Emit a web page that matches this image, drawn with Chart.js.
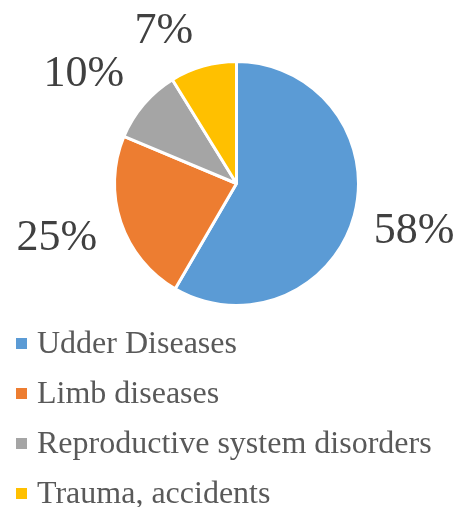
<!DOCTYPE html>
<html>
<head>
<meta charset="utf-8">
<script src="https://cdn.jsdelivr.net/npm/chart.js@4.4.0/dist/chart.umd.min.js"></script>
<style>
    html, body { margin: 0; padding: 0; background: #fff; }
    #wrap { position: relative; width: 459px; height: 507px; }
    #legend { position: absolute; left: 16px; top: 317px; font-family: "Liberation Serif", "Times New Roman", serif; font-size: 32px; color: #595959; }
    .item { height: 50px; display: flex; align-items: center; white-space: nowrap; }
    .box { width: 11px; height: 11px; margin-right: 10px; margin-top: 2px; }
</style>
</head>
<body>
<div id="wrap">
    <canvas id="pie" width="459" height="507"></canvas>
    <div id="legend"></div>
</div>
<script>
const categories = ['Udder Diseases', 'Limb diseases', 'Reproductive system disorders', 'Trauma, accidents'];
const shares = [58.4, 22.9, 9.9, 8.8];
const shareLabels = ['58%', '25%', '10%', '7%'];
const colors = ['#5b9bd5', '#ed7d31', '#a5a5a5', '#ffc000'];

// labels outside the slice ends, with small nudges to sit like the original
const outsideLabels = {
    id: 'outsideLabels',
    afterDatasetsDraw(chart, args, opts) {
        const ctx = chart.ctx;
        const arcs = chart.getDatasetMeta(0).data;
        ctx.save();
        ctx.font = '44px "Liberation Serif", "Times New Roman", serif';
        ctx.fillStyle = '#404040';
        ctx.textAlign = 'center';
        ctx.textBaseline = 'middle';
        arcs.forEach((arc, i) => {
            const mid = (arc.startAngle + arc.endAngle) / 2;
            const c = Math.cos(mid), s = Math.sin(mid);
            const w = ctx.measureText(shareLabels[i]).width;
            const h = 32;
            const d = arc.outerRadius + 22 + Math.abs(c) * w / 2 + Math.abs(s) * h / 2;
            const n = opts.nudge[i] || [0, 0];
            ctx.fillText(shareLabels[i], arc.x + c * d + n[0], arc.y + s * d + n[1]);
        });
        ctx.restore();
    }
};

const chart = new Chart(document.getElementById('pie'), {
    type: 'pie',
    data: {
        labels: categories,
        datasets: [{
            data: shares,
            backgroundColor: colors,
            borderColor: '#ffffff',
            borderWidth: 3
        }]
    },
    options: {
        responsive: false,
        animation: false,
        layout: { padding: { left: 113, right: 99, top: 60, bottom: 200 } },
        plugins: {
            legend: { display: false },
            tooltip: { enabled: false },
            outsideLabels: { nudge: [[-3, -1], [-2, -5], [-12, 11], [-27, 9]] }
        }
    },
    plugins: [outsideLabels]
});

// legend, one entry per row
const legendEl = document.getElementById('legend');
categories.forEach((name, i) => {
    const row = document.createElement('div');
    row.className = 'item';
    row.innerHTML = `<span class="box" style="background:${colors[i]}"></span><span>${name}</span>`;
    legendEl.appendChild(row);
});
</script>
</body>
</html>
